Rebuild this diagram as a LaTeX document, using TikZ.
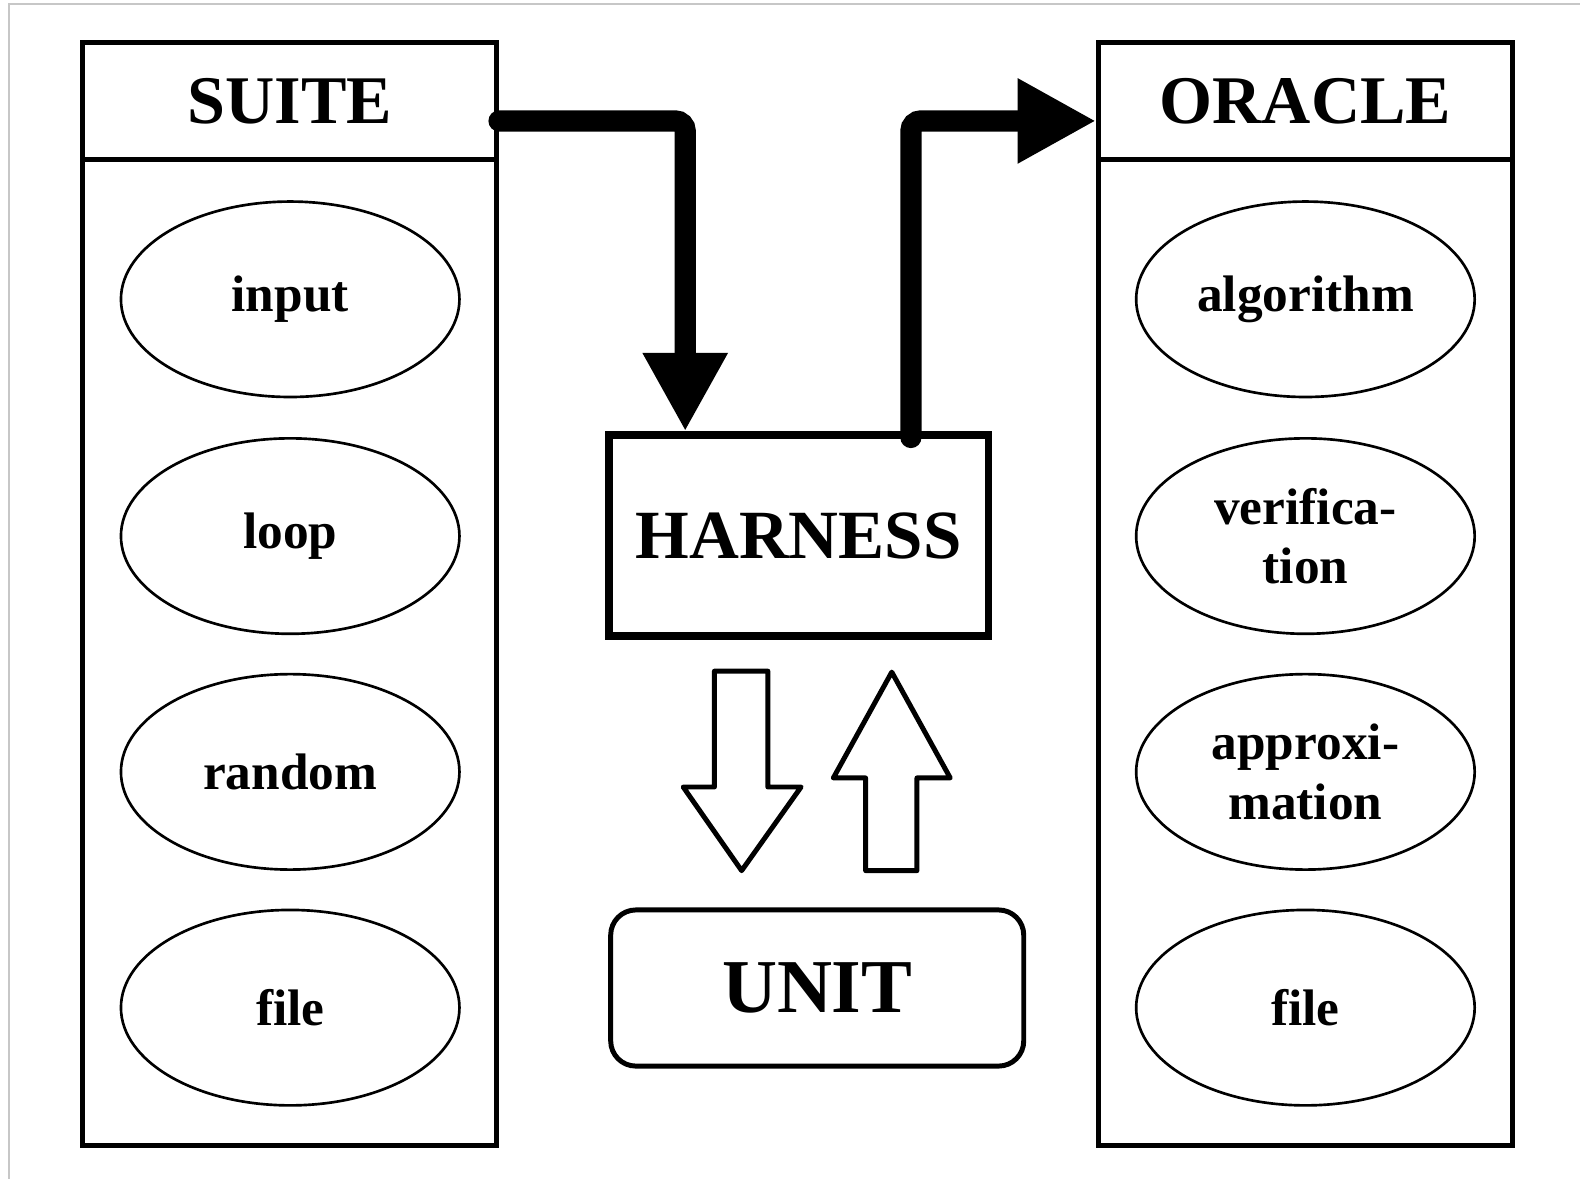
\documentclass[tikz,border=0pt]{standalone}
\usepackage{fontspec}
\setmainfont{Liberation Serif}
\usetikzlibrary{arrows.meta, shapes.geometric, positioning, calc}
\tikzset{
  frame/.style={draw, line width=2.6pt, inner sep=0pt},
  head/.style={frame, minimum width=8.22cm, minimum height=2.32cm,
    font=\fontsize{38.5}{46}\selectfont\bfseries},
  body/.style={frame, minimum width=8.22cm, minimum height=19.58cm},
  item/.style={draw, ellipse, line width=1.5pt, minimum width=6.72cm,
    minimum height=3.88cm, inner sep=0pt, align=center,
    font=\fontsize{29}{33.5}\selectfont\bfseries},
  flow/.style={line width=12pt, rounded corners=0.2cm, line cap=round,
    -{Triangle[width=1.58cm, length=1.56cm]}},
  hollow/.style={draw, line width=2.8pt, line join=round, fill=white},
}

\begin{document}
\begin{tikzpicture}[x=0.02cm, y=-0.02cm]
		\useasboundingbox (0,0) rectangle (1568,1170);
		\draw[black!22, line width=0.8pt] (9,1170) -- (9,4) -- (1568,4);
		% the two columns
		\node[body] (suitebody) at (287.5,647.5) {};
		\node[head] (suite) at (287.5,100) {SUITE};
		\node[body] (oraclebody) at (1295.5,647.5) {};
		\node[head] (oracle) at (1295.5,100) {ORACLE};
		\node[item] (input) at (288,297) {input};
		\node[item] (loop) at (288,532) {loop};
		\node[item] (random) at (288,766) {random};
		\node[item] (sfile) at (288,1000) {file};
		\node[item] (algo) at (1295.5,297) {algorithm};
		\node[item] (verif) at (1295.5,532) {verifica-\\tion};
		\node[item] (approx) at (1295.5,766) {approxi-\\mation};
		\node[item] (ofile) at (1295.5,1000) {file};
		% middle
		\node[draw, line width=4.4pt, inner sep=0pt, minimum width=7.54cm, minimum height=3.98cm,
			font=\fontsize{39}{46}\selectfont\bfseries] (harness) at (792.5,531.5) {HARNESS};
		\node[draw, line width=2.8pt, rounded corners=0.5cm, inner sep=0pt, minimum width=8.2cm,
			minimum height=3.1cm, font=\fontsize{43}{50}\selectfont\bfseries] (unit) at (811,980.5) {UNIT};
		\draw[flow] ($(suite.east)+(0,20)$) -| ($(harness.north)+(-112.5,0)$);
		\draw[flow] ($(harness.north)+(111.5,6)$) |- ($(oracle.west)+(0,20)$);
		\draw[hollow] (709,666) -- (762,666) -- (762,781) -- (795,781) -- (736,864)
			-- (678,781) -- (709,781) -- cycle;
		\draw[hollow] (885,667) -- (943,772) -- (910,772) -- (910,864) -- (859,864)
			-- (859,772) -- (827,772) -- cycle;
	\end{tikzpicture}
\end{document}
